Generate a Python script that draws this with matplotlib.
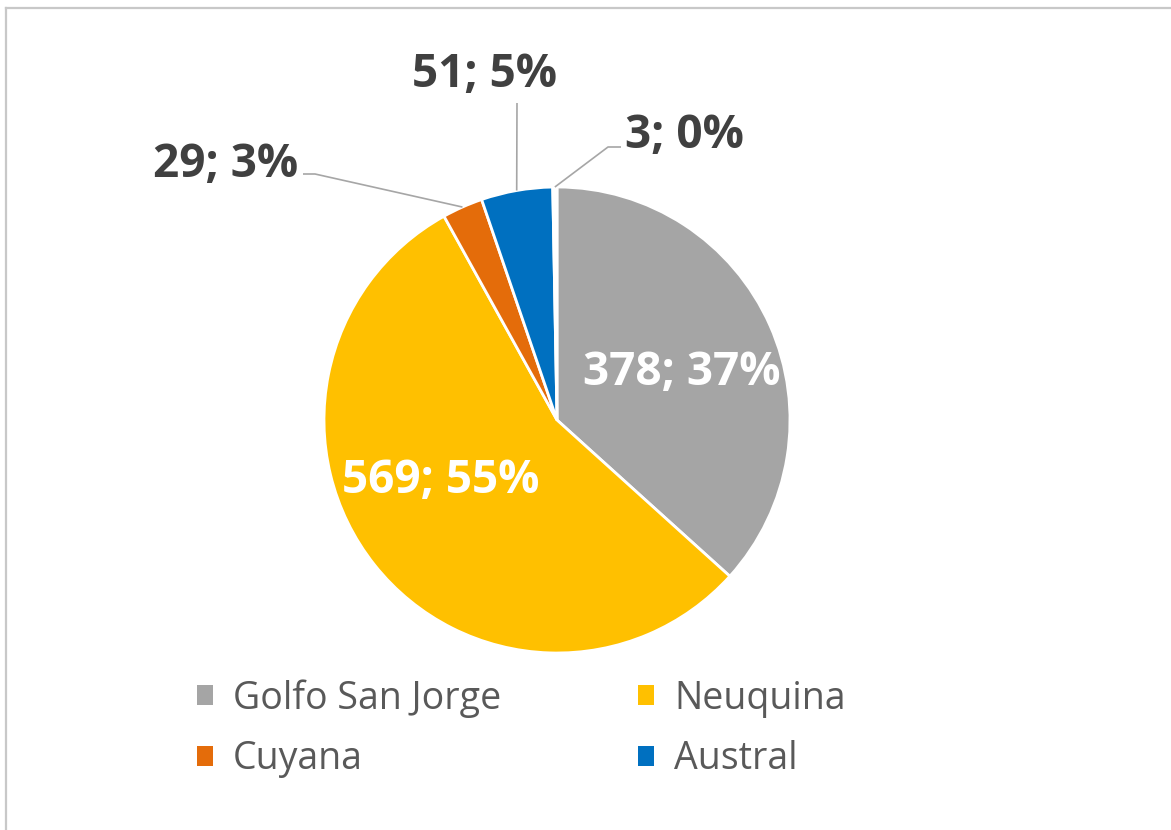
import matplotlib
matplotlib.use("Agg")
import matplotlib.pyplot as plt
from matplotlib.patches import Patch
from matplotlib.lines import Line2D
import numpy as np

# ---- data ----
categories = ["Golfo San Jorge", "Neuquina", "Cuyana", "Austral", "Otra"]
values = [378, 569, 29, 51, 3]
colors = ["#A5A5A5", "#FFC000", "#E46C0A", "#0070C0", "#FFFFFF"]
legend_order = [0, 2, 1, 3]  # row-wise: Golfo, Neuquina / Cuyana, Austral

# ---- layout (pixel units, y measured from top) ----
W, H = 1171, 830
center_img = (557, 420)
R = 233
# label anchor (x center, baseline y) for each slice
label_pos = [(682, 385), (441, 493), (226, 177), (484, 87), (684, 148)]
label_inside = [True, True, False, False, False]
# leader elbow points (from label side) for outside labels
leaders = {2: [(303, 174), (315, 174)],
           3: [(517, 103)],
           4: [(621, 147), (608, 147)]}

plt.rcParams['font.family'] = ['Open Sans', 'DejaVu Sans']

fig = plt.figure(figsize=(W / 100, H / 100), dpi=100)
ax = fig.add_axes([0, 0, 1, 1])

cx, cy = center_img[0], H - center_img[1]
wedges, _ = ax.pie(values, colors=colors, startangle=90, counterclock=False,
                   center=(cx, cy), radius=R,
                   wedgeprops=dict(edgecolor="white", linewidth=2.0))
ax.set_xlim(0, W)
ax.set_ylim(0, H)
ax.set_aspect("auto")
ax.axis("off")

total = sum(values)
for i, v in enumerate(values):
    pct = round(v / total * 100)
    txt = f"{v}; {pct}%"
    x, y = label_pos[i]
    ax.text(x, H - y, txt, ha="center", va="baseline", fontsize=33,
            fontweight="bold", color="white" if label_inside[i] else "#404040")

# leader lines from wedge mid-angle at the rim
for i, pts in leaders.items():
    w = wedges[i]
    mid = np.deg2rad((w.theta1 + w.theta2) / 2)
    ex, ey = cx + R * np.cos(mid), cy + R * np.sin(mid)
    xs = [p[0] for p in pts] + [ex]
    ys = [H - p[1] for p in pts] + [ey]
    ax.plot(xs, ys, color="#A6A6A6", lw=1.2, solid_capstyle="butt")

# chart border (top and left visible)
fig.add_artist(Line2D([6 / W, 6 / W], [0, 1 - 8 / H], transform=fig.transFigure,
                      color="#C8C8C8", lw=1.6))
fig.add_artist(Line2D([6 / W, 1], [1 - 8 / H, 1 - 8 / H], transform=fig.transFigure,
                      color="#C8C8C8", lw=1.6))

handles = [Patch(facecolor=colors[i], edgecolor="none", label=categories[i]) for i in legend_order]
fig.legend(handles=handles, ncol=2, loc="upper left",
           bbox_to_anchor=(197 / W, 1 - 679 / H), frameon=False,
           borderaxespad=0, borderpad=0, fontsize=27,
           handlelength=0.43, handleheight=0.43, handletextpad=0.53,
           columnspacing=3.65, labelspacing=0.6, labelcolor="#595959")

fig.savefig("out.png", dpi=100, facecolor="white")
